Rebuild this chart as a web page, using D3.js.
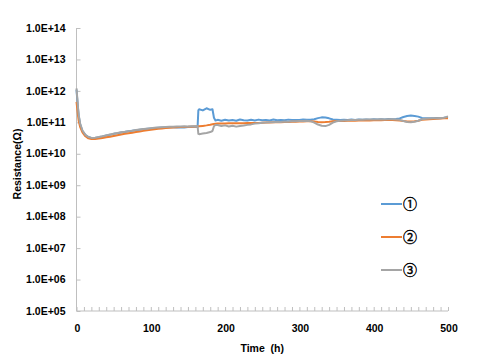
<!DOCTYPE html>
<html><head><meta charset="utf-8">
<script src="https://cdn.jsdelivr.net/npm/d3@7"></script>
<style>body{margin:0;background:#fff}svg{display:block}</style>
</head><body>
<script>
// values in units of 1e10 Ω
const unit = 1e10;
const times = [0,1,2,3,5,8,12,16,20,25,30,35,40,45,50,55,60,65,70,75,80,85,90,95,100,105,110,115,120,125,130,135,140,145,150,155,160,163,164,165,170,175,180,183,185,187,190,195,200,205,210,215,220,225,230,235,240,245,250,255,260,265,270,275,280,285,290,295,300,305,310,315,320,325,330,335,340,345,350,355,360,365,370,375,380,385,390,395,400,405,410,415,420,425,430,435,440,445,450,455,460,465,470,475,480,485,490,495,500];
const series1 = [110,55,28,16,8.5,5.3,3.9,3.4,3.2,3.2,3.35,3.55,3.8,4.0,4.3,4.5,4.75,4.95,5.2,5.4,5.6,5.8,6.0,6.2,6.4,6.55,6.7,6.85,6.9,7.0,7.0,6.9,6.8,6.9,7.1,7.2,7.3,7.3,24,26,24,28,25,26,14,11.5,12.0,11.3,12.1,11.4,11.8,11.2,12.3,11.6,11.4,12.0,11.5,12.2,11.6,11.9,11.5,12.3,11.7,11.8,11.6,12.2,11.8,11.9,11.9,12.3,12.0,12.1,12.6,13.6,14.4,14.2,13.4,12.3,12.1,11.8,12.1,11.9,12.3,11.9,12.2,12.0,12.4,12.1,12.5,12.2,12.6,12.3,12.7,12.5,12.8,13.3,14.8,15.9,16.4,16.0,15.2,13.8,13.4,13.6,13.4,13.8,13.6,14.0,14.2];
const series2 = [45,28,17,11,7,4.8,3.6,3.1,2.95,2.95,3.05,3.2,3.35,3.5,3.7,3.9,4.1,4.3,4.5,4.7,4.9,5.1,5.35,5.6,5.8,6.0,6.2,6.4,6.55,6.7,6.85,6.95,7.05,7.15,7.2,7.3,7.35,7.4,7.4,7.45,7.7,8.0,8.4,8.7,8.9,9.0,9.1,9.2,9.2,9.3,9.3,9.3,9.4,9.4,9.5,9.5,9.6,9.6,9.7,9.8,9.9,10.0,10.0,10.1,10.2,10.3,10.4,10.5,10.6,10.7,10.8,10.8,10.6,10.3,10.1,10.2,10.4,10.8,11.0,11.0,11.1,11.2,11.2,11.3,11.4,11.4,11.5,11.5,11.6,11.7,11.7,11.8,11.8,11.8,11.7,11.4,11.0,10.7,10.6,10.8,11.3,12.0,12.4,12.6,12.8,13.0,13.2,13.4,13.6];
const series3 = [120,60,30,17,9,5.5,4.0,3.4,3.2,3.25,3.4,3.6,3.85,4.1,4.35,4.6,4.8,5.0,5.25,5.45,5.7,5.9,6.1,6.3,6.5,6.7,6.85,7.0,7.1,7.2,7.3,7.4,7.4,7.45,7.4,7.45,7.5,7.5,4.3,4.2,4.4,4.6,4.9,5.3,7.5,8.3,8.2,7.7,8.0,7.4,7.8,7.3,7.7,7.9,8.3,8.6,9.1,9.3,9.7,9.8,10.1,10.0,10.4,10.3,10.6,10.5,10.9,10.8,11.1,11.0,11.3,10.9,9.8,8.5,7.8,7.6,8.3,9.8,10.8,11.2,11.5,11.6,11.8,11.8,12.0,12.0,12.2,12.2,12.3,12.3,12.5,12.4,12.6,12.5,12.4,12.0,11.0,10.3,10.1,10.4,11.2,12.5,13.0,13.2,13.4,13.6,13.8,14.0,15.5];
const seriesNames = ["①","②","③"];
const seriesColors = ["#5b9bd5","#ed7d31","#a5a5a5"];
const yTickValues = [1e5,1e6,1e7,1e8,1e9,1e10,1e11,1e12,1e13,1e14];
const yTickLabels = ["1.0E+05","1.0E+06","1.0E+07","1.0E+08","1.0E+09","1.0E+10","1.0E+11","1.0E+12","1.0E+13","1.0E+14"];
const xTickValues = [0,100,200,300,400,500];
const xTitle = "Time  (h)";
const yTitle = "Resistance(Ω)";

const W = 482, H = 360;
const m = {left:76.5, right:34, top:28, bottom:49};
const svg = d3.select("body").append("svg").attr("width",W).attr("height",H);
const x = d3.scaleLinear().domain([0,500]).range([m.left, W-m.right]);
const y = d3.scaleLog().domain([1e5,1e14]).range([H-m.bottom, m.top]);
const font = "'Liberation Sans', Arial, sans-serif";
const axisColor = "#bfbfbf";

// y axis
const yAxis = svg.append("g").attr("transform",`translate(${m.left},0)`)
  .call(d3.axisRight(y).tickValues(yTickValues).tickSize(4).tickFormat(""));
yAxis.select(".domain").attr("stroke",axisColor).attr("d",`M0,${y(1e14)}V${y(1e5)}`);
yAxis.selectAll(".tick line").attr("stroke",axisColor);
svg.append("g").selectAll("text").data(yTickValues).join("text")
  .attr("x", m.left-11).attr("y", d=>y(d)).attr("dy","0.35em")
  .attr("text-anchor","end").attr("font-family",font).attr("font-weight","bold")
  .attr("font-size","10.5px").attr("fill","#000")
  .text((d,i)=>yTickLabels[i]);

// x axis
const xAxis = svg.append("g").attr("transform",`translate(0,${H-m.bottom})`)
  .call(d3.axisTop(x).tickValues(d3.range(0,501,10)).tickSize(4).tickFormat(""));
xAxis.select(".domain").attr("stroke",axisColor).attr("d",`M${x(0)},0H${x(500)}`);
xAxis.selectAll(".tick line").attr("stroke",axisColor);
svg.append("g").selectAll("text").data(xTickValues).join("text")
  .attr("x", d=>x(d)+1).attr("y", H-m.bottom+21)
  .attr("text-anchor","middle").attr("font-family",font).attr("font-weight","bold")
  .attr("font-size","10.5px").attr("fill","#000").text(d=>d);

// titles
svg.append("text").attr("x",(x(0)+x(500))/2).attr("y",352)
  .attr("text-anchor","middle").attr("font-family",font).attr("font-weight","bold")
  .attr("font-size","10.5px").style("white-space","pre").text(xTitle);
svg.append("text").attr("transform",`translate(21,164) rotate(-90)`)
  .attr("text-anchor","middle").attr("font-family",font).attr("font-weight","bold")
  .attr("font-size","10.5px").text(yTitle);

// lines
const allSeries = [series1, series2, series3];
const line = d3.line().x((d,i)=>x(times[i])).y(d=>y(d*unit));
svg.append("g").selectAll("path").data(allSeries).join("path")
  .attr("d", d=>line(d)).attr("fill","none")
  .attr("stroke",(d,i)=>seriesColors[i]).attr("stroke-width",2)
  .attr("stroke-linejoin","round");

// legend
const leg = svg.append("g");
seriesNames.forEach((n,i)=>{
  const yy = 204 + i*33;
  leg.append("line").attr("x1",381).attr("x2",402).attr("y1",yy).attr("y2",yy)
    .attr("stroke",seriesColors[i]).attr("stroke-width",2);
  leg.append("text").attr("x",403).attr("y",yy).attr("dy","0.36em")
    .attr("font-family","'Noto Sans CJK JP', sans-serif").attr("font-size","14px")
    .attr("fill","#000").attr("stroke","#000").attr("stroke-width",0.4).text(n);
});
</script>
</body></html>
